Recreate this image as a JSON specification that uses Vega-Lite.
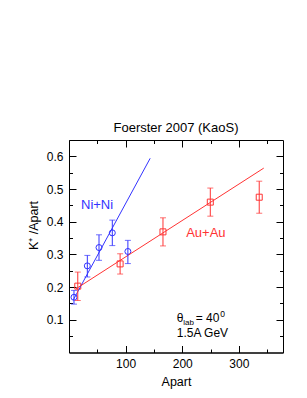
{
  "$schema": "https://vega.github.io/schema/vega-lite/v6.json",
  "width": 214,
  "height": 212.5,
  "autosize": {"type": "none"},
  "padding": {"left": 69, "top": 140, "right": 24, "bottom": 45.5},
  "background": "white",
  "config": {
    "view": {"stroke": "black", "strokeWidth": 1},
    "font": "Liberation Sans",
    "axis": {"grid": false, "zindex": 1, "domainColor": "black", "tickColor": "black", "labelColor": "black", "titleColor": "black", "labelFont": "Liberation Sans", "titleFont": "Liberation Sans", "titleFontWeight": "normal", "labelFontSize": 12, "titleFontSize": 12.5, "domainWidth": 1, "tickWidth": 1}
  },
  "title": {"text": "Foerster 2007 (KaoS)", "fontSize": 13, "fontWeight": "normal", "font": "Liberation Sans", "color": "black", "baseline": "alphabetic", "offset": -5},
  "datasets": {
    "points": [
      {"series": "Ni+Ni", "Apart": 8.8, "ratio": 0.169, "lo": 0.148, "hi": 0.19},
      {"series": "Ni+Ni", "Apart": 32.4, "ratio": 0.265, "lo": 0.231, "hi": 0.297},
      {"series": "Ni+Ni", "Apart": 53, "ratio": 0.321, "lo": 0.282, "hi": 0.36},
      {"series": "Ni+Ni", "Apart": 76.5, "ratio": 0.366, "lo": 0.327, "hi": 0.405},
      {"series": "Ni+Ni", "Apart": 104, "ratio": 0.309, "lo": 0.272, "hi": 0.343},
      {"series": "Au+Au", "Apart": 15.5, "ratio": 0.203, "lo": 0.159, "hi": 0.246},
      {"series": "Au+Au", "Apart": 90.3, "ratio": 0.271, "lo": 0.24, "hi": 0.302},
      {"series": "Au+Au", "Apart": 166, "ratio": 0.369, "lo": 0.326, "hi": 0.412},
      {"series": "Au+Au", "Apart": 249.6, "ratio": 0.46, "lo": 0.417, "hi": 0.503},
      {"series": "Au+Au", "Apart": 336, "ratio": 0.475, "lo": 0.426, "hi": 0.524}
    ],
    "fits": [
      {"series": "Ni+Ni", "Apart": 7.6, "ratio": 0.161},
      {"series": "Ni+Ni", "Apart": 143.4, "ratio": 0.594},
      {"series": "Au+Au", "Apart": 12.4, "ratio": 0.195},
      {"series": "Au+Au", "Apart": 344, "ratio": 0.564}
    ],
    "labels": [
      {"series": "Ni+Ni", "Apart": 21.2, "ratio": 0.438},
      {"series": "Au+Au", "Apart": 207, "ratio": 0.354}
    ],
    "notes": [
      {"part": "theta", "text": "θ", "Apart": 190.3, "ratio": 0.093},
      {"part": "sub", "text": "lab", "Apart": 190.3, "ratio": 0.093},
      {"part": "eq", "text": "= 40", "Apart": 190.3, "ratio": 0.093},
      {"part": "sup", "text": "0", "Apart": 190.3, "ratio": 0.093},
      {"part": "energy", "text": "1.5A GeV", "Apart": 190.3, "ratio": 0.047}
    ]
  },
  "layer": [
    {
      "data": {"name": "points"},
      "mark": {"type": "point", "filled": false, "strokeWidth": 1, "size": 36, "opacity": 1},
      "encoding": {
        "x": {"field": "Apart", "type": "quantitative", "scale": {"domain": [0, 378], "nice": false, "zero": false},
          "axis": {"orient": "bottom", "title": "Apart", "values": [100, 200, 300], "ticks": false,
            "labelPadding": 6, "titleX": 107, "titleY": 33, "titleBaseline": "alphabetic", "titleAlign": "center", "titleAnchor": null}},
        "y": {"field": "ratio", "type": "quantitative", "scale": {"domain": [0, 0.65], "nice": false, "zero": false},
          "axis": {"orient": "left", "title": "K⁺ /Apart", "values": [0.1, 0.2, 0.3, 0.4, 0.5, 0.6], "format": ".1f", "ticks": false,
            "labelPadding": 6, "titleX": -36, "titleY": 85, "titleAngle": -90, "titleBaseline": "middle", "titleAlign": "center", "titleAnchor": null}},
        "color": {"field": "series", "type": "nominal", "scale": {"domain": ["Ni+Ni", "Au+Au"], "range": ["#3333ff", "#ff3333"]}, "legend": null},
        "shape": {"field": "series", "type": "nominal", "scale": {"domain": ["Ni+Ni", "Au+Au"], "range": ["circle", "square"]}, "legend": null}
      }
    },
    {
      "data": {"name": "fits"},
      "mark": {"type": "line", "strokeWidth": 1},
      "encoding": {
        "x": {"field": "Apart", "type": "quantitative",
          "axis": {"orient": "top", "offset": -212.5, "title": null, "labels": false, "domain": false, "values": [100, 200, 300], "tickSize": 7}},
        "y": {"field": "ratio", "type": "quantitative",
          "axis": {"orient": "right", "offset": -214, "title": null, "labels": false, "domain": false, "values": [0.1, 0.2, 0.3, 0.4, 0.5, 0.6], "tickSize": 7}},
        "color": {"field": "series", "type": "nominal", "legend": null},
        "order": {"field": "Apart", "type": "quantitative"}
      }
    },
    {
      "data": {"name": "points"},
      "mark": {"type": "rule", "strokeWidth": 1},
      "encoding": {
        "x": {"field": "Apart", "type": "quantitative",
          "axis": {"orient": "top", "offset": -212.5, "title": null, "labels": false, "domain": false, "values": [50, 150, 250, 350], "tickSize": 3.5}},
        "y": {"field": "lo", "type": "quantitative",
          "axis": {"orient": "right", "offset": -214, "title": null, "labels": false, "domain": false, "values": [0.05, 0.15, 0.25, 0.35, 0.45, 0.55], "tickSize": 3.5}},
        "y2": {"field": "hi"},
        "color": {"field": "series", "type": "nominal", "legend": null}
      }
    },
    {
      "data": {"name": "points"},
      "mark": {"type": "tick", "orient": "horizontal", "thickness": 1},
      "encoding": {
        "x": {"field": "Apart", "type": "quantitative",
          "axis": {"orient": "bottom", "offset": -212.5, "title": null, "labels": false, "domain": false, "values": [100, 200, 300], "tickSize": 7}},
        "y": {"field": "lo", "type": "quantitative",
          "axis": {"orient": "left", "offset": -214, "title": null, "labels": false, "domain": false, "values": [0.1, 0.2, 0.3, 0.4, 0.5, 0.6], "tickSize": 7}},
        "size": {"value": 6},
        "color": {"field": "series", "type": "nominal", "legend": null}
      }
    },
    {
      "data": {"name": "points"},
      "mark": {"type": "tick", "orient": "horizontal", "thickness": 1},
      "encoding": {
        "x": {"field": "Apart", "type": "quantitative",
          "axis": {"orient": "bottom", "offset": -212.5, "title": null, "labels": false, "domain": false, "values": [50, 150, 250, 350], "tickSize": 3.5}},
        "y": {"field": "hi", "type": "quantitative",
          "axis": {"orient": "left", "offset": -214, "title": null, "labels": false, "domain": false, "values": [0.05, 0.15, 0.25, 0.35, 0.45, 0.55], "tickSize": 3.5}},
        "size": {"value": 6},
        "color": {"field": "series", "type": "nominal", "legend": null}
      }
    },
    {
      "data": {"name": "labels"},
      "mark": {"type": "text", "align": "left", "baseline": "alphabetic", "fontSize": 13},
      "encoding": {
        "x": {"field": "Apart", "type": "quantitative", "axis": null},
        "y": {"field": "ratio", "type": "quantitative", "axis": null},
        "text": {"field": "series"},
        "color": {"field": "series", "type": "nominal", "legend": null}
      }
    },
    {
      "data": {"name": "notes"},
      "transform": [{"filter": "datum.part === 'theta' || datum.part === 'energy'"}],
      "mark": {"type": "text", "align": "left", "baseline": "alphabetic", "fontSize": 12, "color": "black"},
      "encoding": {
        "x": {"field": "Apart", "type": "quantitative", "axis": null},
        "y": {"field": "ratio", "type": "quantitative", "axis": null},
        "text": {"field": "text"}
      }
    },
    {
      "data": {"name": "notes"},
      "transform": [{"filter": "datum.part === 'eq'"}],
      "mark": {"type": "text", "align": "left", "baseline": "alphabetic", "fontSize": 12, "color": "black", "dx": 19},
      "encoding": {
        "x": {"field": "Apart", "type": "quantitative", "axis": null},
        "y": {"field": "ratio", "type": "quantitative", "axis": null},
        "text": {"field": "text"}
      }
    },
    {
      "data": {"name": "notes"},
      "transform": [{"filter": "datum.part === 'sub'"}],
      "mark": {"type": "text", "align": "left", "baseline": "alphabetic", "fontSize": 8, "color": "black", "dx": 6.5, "dy": 3},
      "encoding": {
        "x": {"field": "Apart", "type": "quantitative", "axis": null},
        "y": {"field": "ratio", "type": "quantitative", "axis": null},
        "text": {"field": "text"}
      }
    },
    {
      "data": {"name": "notes"},
      "transform": [{"filter": "datum.part === 'sup'"}],
      "mark": {"type": "text", "align": "left", "baseline": "alphabetic", "fontSize": 8.5, "color": "black", "dx": 43.5, "dy": -5},
      "encoding": {
        "x": {"field": "Apart", "type": "quantitative", "axis": null},
        "y": {"field": "ratio", "type": "quantitative", "axis": null},
        "text": {"field": "text"}
      }
    }
  ],
  "resolve": {"axis": {"x": "independent", "y": "independent"}}
}
